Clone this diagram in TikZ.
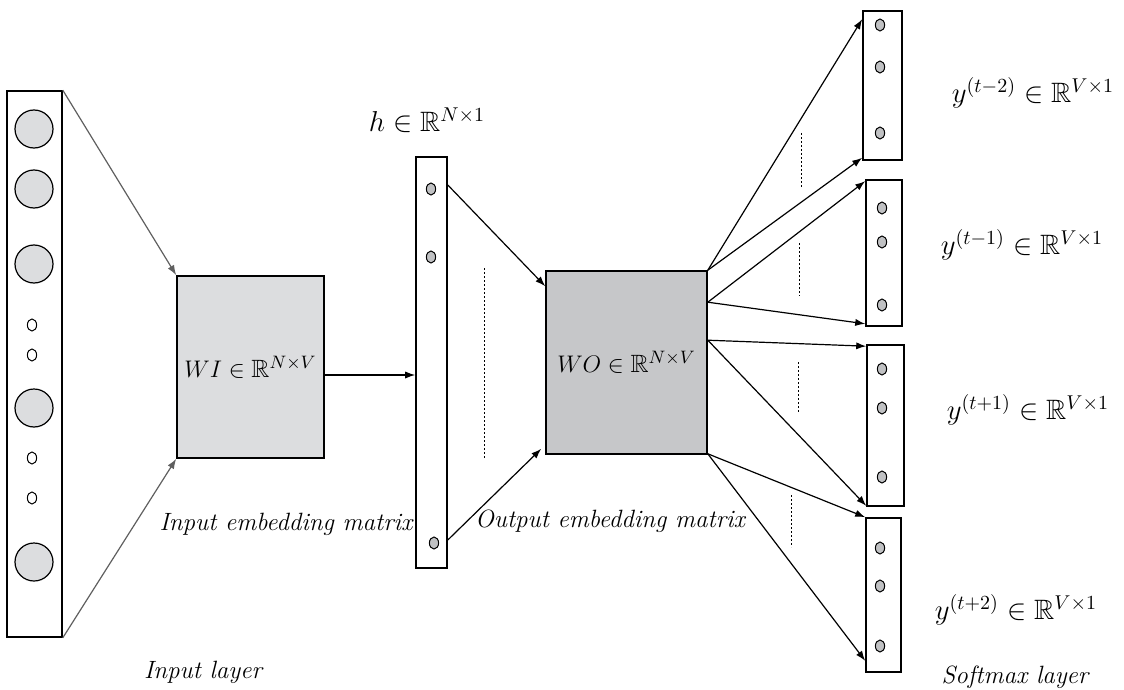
\documentclass[tikz,border=0pt]{standalone}
\usepackage{amsmath,amssymb}
\usetikzlibrary{arrows.meta,positioning,calc,shapes.geometric}
\definecolor{wigray}{RGB}{220,221,223}
\definecolor{wogray}{RGB}{198,199,201}
\definecolor{dotgray}{RGB}{192,193,195}
\definecolor{ingray}{RGB}{95,95,95}

\tikzset{
  vecbox/.style={draw, line width=0.8pt, inner sep=0pt},
  bigdot/.style={circle, draw, line width=0.6pt, fill=wigray, minimum size=19pt, inner sep=0pt},
  smalldot/.style={ellipse, draw, line width=0.5pt, minimum width=4.6pt, minimum height=6pt, inner sep=0pt},
  unitdot/.style={smalldot, fill=dotgray},
  flow/.style={-{Latex[length=5pt,width=3.6pt]}, line width=0.6pt},
  lbl/.style={font=\fontsize{12.5}{15}\selectfont\itshape},
  mlbl/.style={font=\fontsize{14}{17}\selectfont},
  wlbl/.style={font=\fontsize{12.5}{15}\selectfont},
  gap/.style={line width=0.5pt, dash pattern=on 1.2pt off 0.8pt}
}

\begin{document}
\begin{tikzpicture}[x=0.5pt,y=-0.5pt]
\useasboundingbox (0,0) rectangle (1124,690);

% input layer
\node[vecbox, minimum width=27.5pt, minimum height=273pt] (inlayer) at (34.5,364) {};
\foreach \name/\yy in {a1/129,a2/189,a3/264,a4/408,a5/562}
  \node[bigdot] (\name) at (34,\yy) {};
\foreach \name/\yy in {b1/325,b2/355,b3/458,b4/498}
  \node[smalldot] (\name) at (32,\yy) {};
\node[lbl] (inlbl) at (203,672) {Input layer};

% input embedding matrix
\node[vecbox, fill=wigray, minimum width=73.5pt, minimum height=91pt] (WI) at (250.5,367) {};
\node[wlbl] (WIlbl) at (WI) {$WI \in \mathbb{R}^{N\times V}$};
\node[lbl] (WIname) at (286,524) {Input embedding matrix};
\draw[flow, ingray] (inlayer.north east) -- (WI.north west);
\draw[flow, ingray] (inlayer.south east) -- (WI.south west);

% hidden layer
\node[vecbox, minimum width=15.5pt, minimum height=205.5pt] (h) at (431.5,362.5) {};
\node[unitdot] (h1) at (431,189) {};
\node[unitdot] (h2) at (431,257) {};
\node[unitdot] (h3) at (434,543) {};
\node[mlbl] (hlbl) at (427,120) {$h \in \mathbb{R}^{N\times 1}$};
\draw[gap] (484,268) -- (484,458);
\draw[flow] (WI.east |- 0,375) -- (h.west |- 0,375);

% output embedding matrix
\node[vecbox, fill=wogray, minimum width=80.5pt, minimum height=91.5pt] (WO) at (626.5,362.5) {};
\node[wlbl] (WOlbl) at (WO) {$WO \in \mathbb{R}^{N\times V}$};
\node[lbl] (WOname) at (610,521) {Output embedding matrix};
\draw[flow] (h.east |- 0,185) -- ($(WO.north west)+(0,16)$);
\draw[flow] (h.east |- 0,540) -- ($(WO.south west)+(-4,-6)$);

% softmax layer
\node[vecbox, minimum width=19.5pt, minimum height=74.5pt] (out1) at (882.5,85.5) {};
\node[vecbox, minimum width=18pt, minimum height=73pt] (out2) at (884,253) {};
\node[vecbox, minimum width=18.5pt, minimum height=80.5pt] (out3) at (885.5,425.5) {};
\node[vecbox, minimum width=17.5pt, minimum height=77pt] (out4) at (883.5,595) {};
\foreach \name/\xx/\yy in {o11/880/25,o12/880/67,o13/880/133,
                           o21/882/208,o22/882/242,o23/882/305,
                           o31/882/369,o32/882/408,o33/882/477,
                           o41/880/548,o42/880/586,o43/880/646}
  \node[unitdot] (\name) at (\xx,\yy) {};
\node[mlbl] (y1lbl) at (1033,93)  {$y^{(t-2)} \in \mathbb{R}^{V\times 1}$};
\node[mlbl] (y2lbl) at (1022,245) {$y^{(t-1)} \in \mathbb{R}^{V\times 1}$};
\node[mlbl] (y3lbl) at (1028,410) {$y^{(t+1)} \in \mathbb{R}^{V\times 1}$};
\node[mlbl] (y4lbl) at (1016,610) {$y^{(t+2)} \in \mathbb{R}^{V\times 1}$};
\node[lbl] (outlbl) at (1015,677) {Softmax layer};

\coordinate (wo1) at (WO.north east);
\coordinate (wo2) at ($(WO.north east)+(0,32)$);
\coordinate (wo3) at ($(WO.north east)+(0,70)$);
\coordinate (wo4) at ($(WO.south east)+(0,-1)$);
\draw[flow] (wo1) -- ($(out1.north west)+(0,9)$);
\draw[flow] (wo1) -- ($(out1.south west)+(0,-3)$);
\draw[flow] (wo2) -- ($(out2.north west)+(0,2)$);
\draw[flow] (wo2) -- ($(out2.south west)+(0,-3)$);
\draw[flow] (wo3) -- ($(out3.north west)+(0,2)$);
\draw[flow] (wo3) -- ($(out3.south west)+(0,-1)$);
\draw[flow] (wo4) -- (out4.north west);
\draw[flow] (wo4) -- ($(out4.south west)+(0,-12)$);
\draw[gap] (801,133) -- (801,187);
\draw[gap] (799,243) -- (799,296);
\draw[gap] (798,362) -- (798,413);
\draw[gap] (791,495) -- (791,547);
\end{tikzpicture}
\end{document}
